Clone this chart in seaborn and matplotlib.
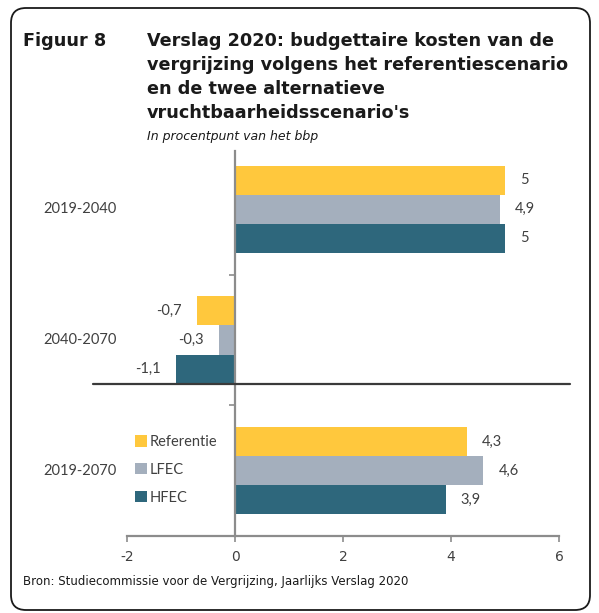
import matplotlib
matplotlib.use("Agg")
import matplotlib.pyplot as plt
import seaborn as sns
import pandas as pd
from matplotlib.patches import FancyBboxPatch
import matplotlib.transforms as mtransforms

# ---- data ----
categories = ["2019-2040", "2040-2070", "2019-2070"]
series = ["Referentie", "LFEC", "HFEC"]
referentie = [5.0, -0.7, 4.3]
lfec = [4.9, -0.3, 4.6]
hfec = [5.0, -1.1, 3.9]
x_ticks = [-2, 0, 2, 4, 6]

colors = ["#FFC83D", "#A4AFBD", "#2E677C"]
text_col = "#404040"

rows = []
for s, vals in zip(series, [referentie, lfec, hfec]):
    for c, v in zip(categories, vals):
        rows.append({"periode": c, "scenario": s, "waarde": v})
df = pd.DataFrame(rows)

W, H = 599, 613
sns.set_theme(style="white")
plt.rcParams["font.family"] = ["DejaVu Sans"]
fig = plt.figure(figsize=(W / 100, H / 100), dpi=100)

def fx(px):
    return px / W

def fy(py):
    return 1 - py / H

ax = fig.add_axes([fx(127), fy(536), fx(559) - fx(127), fy(144) - fy(536)])
sns.barplot(data=df, y="periode", x="waarde", hue="scenario", orient="h",
            palette=colors, order=categories, hue_order=series,
            width=0.667, gap=0, saturation=1, ax=ax, legend=True,
            linewidth=0, errorbar=None)

ax.set_xlim(-2, 6)
ax.set_ylim(2.5, -0.5)
ax.set_xticks(x_ticks)
ax.set_xticklabels([str(t) for t in x_ticks], fontsize=10, color=text_col,
                   family="DejaVu Sans")
ax.set_xlabel("")
ax.set_ylabel("")
ax.set_yticks([])
ax.set_yticks([0.5, 1.5], minor=True)
ax.tick_params(axis="y", which="minor", length=4, width=1.2, color="#8c8c8c",
               direction="out", left=True)
ax.tick_params(axis="x", which="major", length=4, width=1.2, color="#8c8c8c",
               direction="out", bottom=True, pad=6)
for sp in ["top", "right"]:
    ax.spines[sp].set_visible(False)
ax.spines["left"].set_position(("data", 0))
ax.spines["left"].set_color("#8c8c8c")
ax.spines["left"].set_linewidth(1.6)
ax.spines["left"].set_bounds(2.5, -0.45)
ax.spines["bottom"].set_color("#8c8c8c")
ax.spines["bottom"].set_linewidth(1.6)
ax.set_facecolor("none")

# category labels
trans = mtransforms.blended_transform_factory(fig.transFigure, ax.transData)
for i, c in enumerate(categories):
    ax.text(fx(80), i, c, transform=trans, ha="center", va="center",
            fontsize=10.5, color=text_col, family="Lato")

# value labels
off = 15 / 54.0
for bars in ax.containers:
    for rect in bars:
        v = rect.get_width()
        yc = rect.get_y() + rect.get_height() / 2
        lab = f"{v:.1f}".replace(".", ",")
        if lab.endswith(",0"):
            lab = lab[:-2]
        if v >= 0:
            ax.text(v + off, yc, lab, ha="left", va="center", fontsize=10.5,
                    color=text_col, family="Lato")
        else:
            ax.text(v - off, yc, lab, ha="right", va="center", fontsize=10.5,
                    color=text_col, family="Lato")

# horizontal line at bottom of middle group
yline = 1 + 0.667 / 2
ax.axhline(yline, xmin=(93 - 127) / 432, xmax=(570 - 127) / 432,
           color="#3a3a3a", lw=1.6, clip_on=False, zorder=5)

# legend
leg = ax.legend(loc="upper left", bbox_to_anchor=(fx(135), fy(435)),
                bbox_transform=fig.transFigure, frameon=False,
                handlelength=0.8, handleheight=0.8, handletextpad=0.2,
                labelspacing=0.95, borderaxespad=0, borderpad=0,
                prop={"family": "Lato", "size": 10.5})
for t in leg.get_texts():
    t.set_color(text_col)

# titles
base0 = 46
step = 24
fig.text(fx(23), fy(base0), "Figuur 8", fontsize=12.7, fontweight="bold",
         color="#1a1a1a", va="baseline", ha="left")
title_lines = ["Verslag 2020: budgettaire kosten van de",
               "vergrijzing volgens het referentiescenario",
               "en de twee alternatieve",
               "vruchtbaarheidsscenario's"]
for k, ln in enumerate(title_lines):
    fig.text(fx(147), fy(base0 + step * k), ln, fontsize=12.7, fontweight="bold",
             color="#1a1a1a", va="baseline", ha="left")
fig.text(fx(147), fy(140), "In procentpunt van het bbp", fontsize=9,
         style="italic", color="#1a1a1a", va="baseline", ha="left")

fig.text(fx(23), fy(581), "Bron: Studiecommissie voor de Vergrijzing, Jaarlijks Verslag 2020",
         fontsize=8.5, color="#1a1a1a", va="center", ha="left")

# border
border = FancyBboxPatch((fx(11), fy(610)), fx(590) - fx(11), fy(8) - fy(610),
                        boxstyle="round,pad=0,rounding_size=0.025",
                        transform=fig.transFigure, fill=False,
                        edgecolor="#1a1a1a", lw=1.3, mutation_aspect=W / H)
fig.patches.append(border)

fig.savefig("out.png", dpi=100)
